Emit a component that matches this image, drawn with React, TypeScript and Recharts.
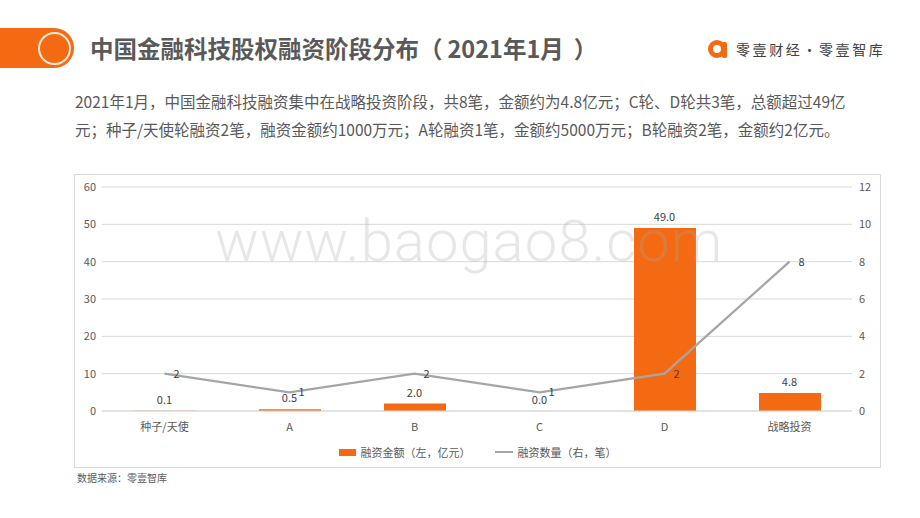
import React from 'react';
import { ComposedChart, Bar, Line, XAxis, YAxis, CartesianGrid, Legend, LabelList } from 'recharts';

const categories = ['种子/天使', 'A', 'B', 'C', 'D', '战略投资'];
const amounts = [0.1, 0.5, 2.0, 0.0, 49.0, 4.8];
const counts = [2, 1, 2, 1, 2, 8];
const leftTicks = [0, 10, 20, 30, 40, 50, 60];
const rightTicks = [0, 2, 4, 6, 8, 10, 12];
const seriesNames = ['融资金额（左，亿元）', '融资数量（右，笔）'];

const data = categories.map((c, i) => ({ name: c, amount: amounts[i], count: counts[i] }));

const ORANGE = '#F36A12';
const GRAY_LINE = '#A5A5A5';
const FONT = '"Noto Sans CJK SC", "Noto Sans", sans-serif';

const LegendContent = () => (
  <div style={{ height: 30, display: 'flex', alignItems: 'center', justifyContent: 'center', fontSize: 11, color: '#595959', fontFamily: FONT }}>
    <span style={{ display: 'inline-block', width: 17, height: 7, background: ORANGE, marginRight: 5 }} />
    <span style={{ marginRight: 24 }}>{seriesNames[0]}</span>
    <span style={{ display: 'inline-block', width: 18, height: 2, background: GRAY_LINE, marginRight: 5 }} />
    <span>{seriesNames[1]}</span>
  </div>
);

export default function App() {
  return (
    <div style={{ position: 'absolute', left: 0, top: 0, width: 920, height: 518, background: '#fff', overflow: 'hidden', fontFamily: FONT }}>
      {/* header orange block */}
      <div style={{ position: 'absolute', left: 0, top: 28, width: 74, height: 40, background: ORANGE, borderRadius: '0 20px 20px 0' }} />
      <div style={{ position: 'absolute', left: 38, top: 32, width: 29, height: 29, border: '2px solid #fff', borderRadius: '50%', opacity: 0.85 }} />
      <div style={{ position: 'absolute', left: 90, top: 32, fontSize: 23.5, fontWeight: 700, color: '#595959', whiteSpace: 'nowrap', lineHeight: '32px' }}>
        中国金融科技股权融资阶段分布<span>（</span><span style={{ marginLeft: 5 }}>2021年1月</span><span style={{ marginLeft: 10 }}>）</span>
      </div>
      {/* logo */}
      <svg style={{ position: 'absolute', left: 707, top: 38 }} width={22} height={22} viewBox="0 0 22 22">
        <circle cx={10} cy={11} r={6.5} fill="none" stroke={ORANGE} strokeWidth={5} />
        <rect x={15} y={4} width={5} height={16} rx={2} fill={ORANGE} />
      </svg>
      <div style={{ position: 'absolute', left: 736, top: 39, fontSize: 14, color: '#404040', letterSpacing: 2.6, whiteSpace: 'nowrap', lineHeight: '20px' }}>
        零壹财经·零壹智库
      </div>
      {/* paragraph */}
      <div style={{ position: 'absolute', left: 75, top: 87, fontSize: 15.5, color: '#595959', lineHeight: '28px', whiteSpace: 'nowrap' }}>
        <div>2021年1月，中国金融科技融资集中在战略投资阶段，共8笔，金额约为4.8亿元；C轮、D轮共3笔，总额超过49亿</div>
        <div>元；种子/天使轮融资2笔，融资金额约1000万元；A轮融资1笔，金额约5000万元；B轮融资2笔，金额约2亿元。</div>
      </div>
      {/* chart box */}
      <div style={{ position: 'absolute', left: 74, top: 174, width: 805, height: 292, border: '1px solid #D9D9D9' }} />
      <div style={{ position: 'absolute', left: 75, top: 175 }}>
        <ComposedChart width={805} height={292} data={data} margin={{ top: 12, right: 0, bottom: 0, left: 0 }} barCategoryGap={0}>
          <CartesianGrid vertical={false} stroke="#D9D9D9" yAxisId="left" />
          <XAxis dataKey="name" height={26} tickLine={false} axisLine={{ stroke: '#D9D9D9' }} tick={{ fontSize: 11, fill: '#595959', fontFamily: FONT }} tickMargin={6} />
          <YAxis yAxisId="left" orientation="left" width={27} domain={[0, 60]} ticks={leftTicks} tickLine={false} axisLine={false} tickSize={4} tickMargin={2} tick={{ fontSize: 11, fill: '#595959', fontFamily: FONT }} />
          <YAxis yAxisId="right" orientation="right" width={28} domain={[0, 12]} ticks={rightTicks} tickLine={false} axisLine={false} tickSize={4} tickMargin={3} tick={{ fontSize: 11, fill: '#595959', fontFamily: FONT }} />
          <Legend verticalAlign="bottom" height={30} content={<LegendContent />} />
          <Bar yAxisId="left" dataKey="amount" fill={ORANGE} barSize={62} isAnimationActive={false} />
          <Line yAxisId="left" type="linear" dataKey="amount" stroke="none" dot={false} activeDot={false} legendType="none" isAnimationActive={false}>
            <LabelList dataKey="amount" position="top" offset={7} formatter={(v: number) => Number(v).toFixed(1)} style={{ fontSize: 11, fill: '#404040', fontFamily: FONT }} />
          </Line>
          <Line yAxisId="right" type="linear" dataKey="count" stroke={GRAY_LINE} strokeWidth={2.25} dot={false} isAnimationActive={false}>
            <LabelList dataKey="count" position="right" offset={9} style={{ fontSize: 11, fill: '#404040', fontFamily: FONT }} />
          </Line>
        </ComposedChart>
      </div>
      {/* watermark */}
      <div style={{ position: 'absolute', left: 215, top: 208, fontFamily: 'Roboto, "Liberation Sans", sans-serif', fontWeight: 300, fontSize: 58, color: 'rgba(170,170,170,0.28)', whiteSpace: 'nowrap', lineHeight: '66px', pointerEvents: 'none', letterSpacing: 1 }}>
        www.baogao8.com
      </div>
      {/* source */}
      <div style={{ position: 'absolute', left: 77, top: 470, fontSize: 10, color: '#595959', whiteSpace: 'nowrap', lineHeight: '16px' }}>
        数据来源：零壹智库
      </div>
    </div>
  );
}
